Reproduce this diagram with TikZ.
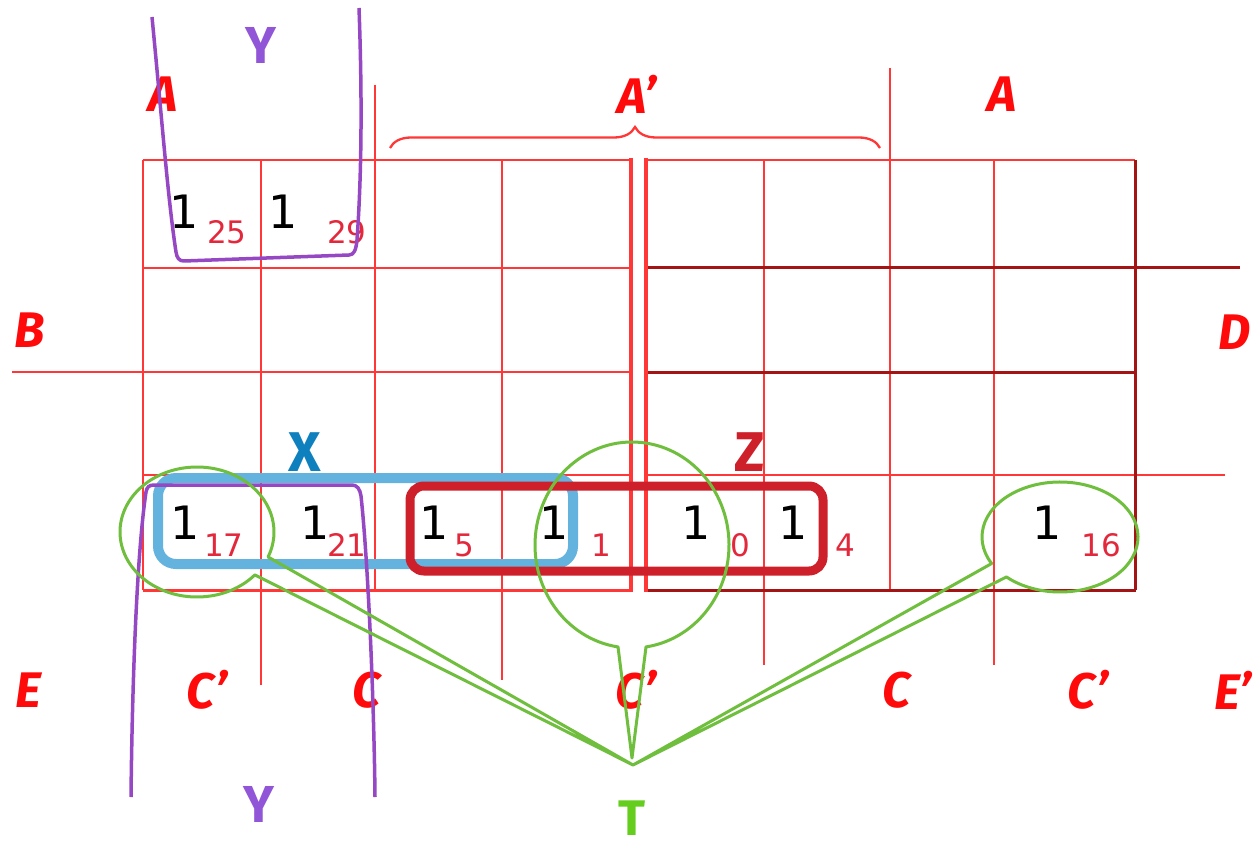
\documentclass[tikz,border=0pt]{standalone}
\usepackage{fontspec}
\setmainfont{Fira Sans}
\newfontfamily\digfont{DejaVu Sans}
\usetikzlibrary{decorations.pathreplacing}
\definecolor{gridred}{RGB}{255,55,55}
\definecolor{griddark}{RGB}{165,20,20}
\definecolor{labred}{RGB}{255,10,10}
\definecolor{subred}{RGB}{228,40,60}
\definecolor{xblue}{RGB}{100,178,222}
\definecolor{xlab}{RGB}{15,128,190}
\definecolor{zred}{RGB}{205,32,42}
\definecolor{ypurple}{RGB}{150,72,196}
\definecolor{ylab}{RGB}{145,85,215}
\definecolor{tgreen}{RGB}{112,190,62}
\definecolor{tlab}{RGB}{100,205,30}
\tikzset{
  gridline/.style={draw=gridred, line width=2.3pt},
  thickline/.style={draw=gridred, line width=4.5pt},
  darkline/.style={draw=griddark, line width=3pt},
  lbl/.style={text=labred, font=\fontsize{50}{50}\selectfont\bfseries\itshape, inner sep=0pt},
  one/.style={font=\digfont\fontsize{46}{46}\selectfont, inner sep=0pt},
  subn/.style={text=subred, font=\digfont\fontsize{31}{31}\selectfont, inner sep=0pt},
  grplab/.style={font=\fontsize{56}{56}\selectfont\bfseries, inner sep=0pt},
  bluebox/.style={draw=xblue, line width=10pt, rounded corners=18pt},
  redbox/.style={draw=zred, line width=9pt, rounded corners=14pt},
  purp/.style={draw=ypurple, line width=3.5pt, line join=round},
  bubble/.style={draw=tgreen, line width=3pt, line join=round},
}
\begin{document}
\begin{tikzpicture}[x=1pt,y=-1pt]
\useasboundingbox[fill=white] (0,0) rectangle (1258,850);
% ---- grid: left half
\draw[gridline] (143,160) -- (143,590);
\draw[gridline] (261,160) -- (261,685);
\draw[gridline] (375,85) -- (375,590);
\draw[gridline] (502,160) -- (502,680);
\draw[gridline] (143,160) -- (631,160);
\draw[gridline] (143,268) -- (631,268);
\draw[gridline] (12,372) -- (631,372);
\draw[gridline] (143,475) -- (631,475);
\draw[gridline, line width=3pt] (143,590) -- (631,590);
\draw[thickline] (631,158) -- (631,592);
% ---- grid: right half
\draw[gridline] (764,160) -- (764,665);
\draw[gridline] (890,68) -- (890,590);
\draw[gridline] (994,160) -- (994,665);
\draw[gridline] (646,160) -- (1135,160);
\draw[darkline] (646,268) -- (1240,268);
\draw[darkline] (646,372) -- (1135,372);
\draw[gridline] (646,475) -- (1225,475);
\draw[darkline] (646,590) -- (1136,590);
\draw[darkline] (1135,160) -- (1135,590);
\draw[thickline, line width=3.5pt] (646,158) -- (646,592);
% brace
\draw[gridline, decorate, decoration={brace, amplitude=21pt}] (390,148) -- (880,148);
% ---- variable labels
\node[lbl] (a1) at (163,94) {A};
\node[lbl] (a2) at (637,94) {A'};
\node[lbl] (a3) at (1002,94) {A};
\node[lbl] (b) at (30,330) {B};
\node[lbl] (d) at (1235,332) {D};
\node[lbl] (e) at (28,690) {E};
\node[lbl] (c1) at (207,690) {C'};
\node[lbl] (c2) at (367,690) {C};
\node[lbl] (c3) at (636,690) {C'};
\node[lbl] (c4) at (897,690) {C};
\node[lbl] (c5) at (1088,690) {C'};
\node[lbl] (e2) at (1233,690) {E'};
% ---- cell entries
\node[one] (m25) at (184,212) {1};  \node[subn] (s25) at (227,232) {25};
\node[one] (m29) at (283,212) {1};  \node[subn] (s29) at (347,232) {29};
\node[one] (m17) at (185,523) {1};  \node[subn] (s17) at (224,545) {17};
\node[one] (m21) at (315,523) {1};  \node[subn] (s21) at (347,545) {21};
\node[one] (m5) at (434,523) {1};   \node[subn] (s5) at (464,545) {5};
\node[one] (m1) at (554,523) {1};   \node[subn] (s1) at (601,545) {1};
\node[one] (m0) at (696,523) {1};   \node[subn] (s0) at (740,545) {0};
\node[one] (m4) at (793,523) {1};   \node[subn] (s4) at (845,545) {4};
\node[one] (m16) at (1047,523) {1}; \node[subn] (s16) at (1101,545) {16};
% ---- groups
\draw[bluebox] (158,478) rectangle (573,564);
\node[grplab, text=xlab] (xl) at (305,452) {X};
\draw[redbox] (410,486) rectangle (823,571);
\node[grplab, text=zred] (zl) at (750,452) {Z};
% Y (top)
\draw[purp] (152,17) .. controls (162,120) and (168,200) .. (176,252)
  .. controls (177,258) and (179,261) .. (184,261) -- (349,255)
  .. controls (354,255) and (356,250) .. (357,240)
  .. controls (362,170) and (362,90) .. (359,8);
\node[grplab, text=ylab, font=\fontsize{52}{52}\selectfont\bfseries] (yt) at (261,45) {Y};
% Y (bottom)
\draw[purp] (131,797) .. controls (132,700) and (136,560) .. (146,492)
  .. controls (147,487) and (149,485) .. (154,485) -- (352,485)
  .. controls (357,485) and (360,489) .. (361,496)
  .. controls (368,560) and (374,700) .. (375,797);
\node[grplab, text=ylab, font=\fontsize{52}{52}\selectfont\bfseries] (yb) at (259,804) {Y};
% T bubbles
\coordinate (tip) at (633,765);
\coordinate (tipm) at (632,758);
\coordinate (e1) at (197,532);
\coordinate (e2c) at (632,545);
\coordinate (e3) at (1060,537);
\draw[bubble] (e1) ++(41.3:77 and 65) arc[start angle=41.3, end angle=382.6, x radius=77, y radius=65] -- (tip) -- cycle;
\draw[bubble] (e2c) ++(98.3:97 and 103) arc[start angle=98.3, end angle=441.7, x radius=97, y radius=103] -- (tipm) -- cycle;
\draw[bubble] (e3) ++(151.2:78 and 55) arc[start angle=151.2, end angle=493.4, x radius=78, y radius=55] -- (tip) -- cycle;
\node[grplab, text=tlab, font=\fontsize{50}{50}\selectfont\bfseries] (tl) at (632,818) {T};
\end{tikzpicture}
\end{document}
